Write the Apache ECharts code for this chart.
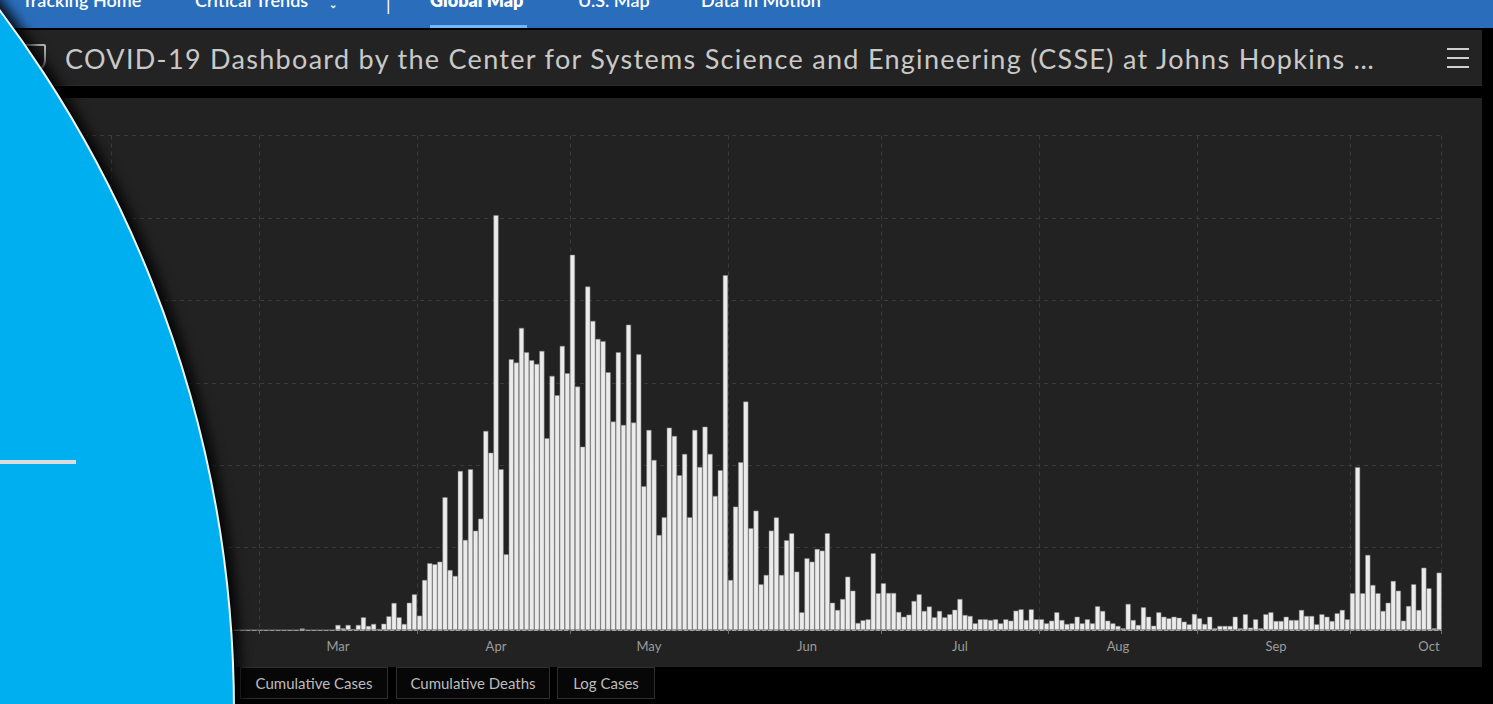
<!DOCTYPE html>
<html>
<head>
<meta charset="utf-8">
<script src="https://cdn.jsdelivr.net/npm/echarts@6/dist/echarts.min.js"></script>
<style>
  html, body { margin:0; padding:0; width:1493px; height:704px; overflow:hidden; background:#000; font-family: Lato, "Open Sans", sans-serif; }
  .abs { position:absolute; }
  #nav { left:0; top:0; width:1493px; height:28px; background:#2a6ebb; overflow:hidden; }
  .navitem { position:absolute; top:-10px; font-size:18px; line-height:20px; color:#fff; white-space:nowrap; font-weight:600; }
  #underline { left:430px; top:25px; width:97px; height:3px; background:#74b6f7; }
  #header { left:0; top:30px; width:1482px; height:55px; background:#232323; border-bottom:1px solid #2c2c2c; }
  #title { left:65px; top:41px; font-size:27px; line-height:36px; letter-spacing:1.3px; color:#c9c9c9; white-space:nowrap; }
  .hb { position:absolute; left:1447px; width:22px; height:2px; background:#cfcfcf; }
  #panel { left:0; top:98px; width:1482px; height:569px; background:#222; }
  .btn { position:absolute; top:667px; height:32px; line-height:31px; background:#070707; border:1px solid #2f2f2f; box-sizing:border-box; color:#bcbcbc; font-size:15px; text-align:center; white-space:nowrap; }
  #chart { left:0; top:0; width:1493px; height:704px; }
  #circle { left:-2103px; top:-457px; width:2338px; height:2338px; border-radius:50%; background:#00aff0; border:2px solid #f4f4f4; box-sizing:border-box; box-shadow: 3px 0 12px 4px rgba(0,0,0,0.85); }
  #grayline { left:0; top:460px; width:76px; height:4px; background:#dcdcdc; }
  #logo { left:22px; top:44px; width:24px; height:28px; border:2px solid #bbb; border-radius:2px 2px 12px 12px; box-sizing:border-box; }
</style>
</head>
<body>
<div id="nav" class="abs">
  <div class="navitem" style="left:22px">Tracking Home</div>
  <div class="navitem" style="left:195px">Critical Trends</div>
  <div class="navitem" style="left:329px;top:-6px;font-size:10px;">&#8964;</div>
  <div class="navitem" style="left:386px;top:-6px;font-weight:400;">|</div>
  <div class="navitem" style="left:430px;font-weight:800">Global Map</div>
  <div class="navitem" style="left:578px">U.S. Map</div>
  <div class="navitem" style="left:701px">Data in Motion</div>
  <div id="underline" class="abs"></div>
</div>
<div id="header" class="abs"></div>
<div id="logo" class="abs"></div>
<div id="title" class="abs">COVID-19 Dashboard by the Center for Systems Science and Engineering (CSSE) at Johns Hopkins …</div>
<div class="hb" style="top:48px"></div>
<div class="hb" style="top:57px"></div>
<div class="hb" style="top:66px"></div>
<div id="panel" class="abs"></div>
<div class="btn" style="left:240px;width:148px">Cumulative Cases</div>
<div class="btn" style="left:396px;width:154px">Cumulative Deaths</div>
<div class="btn" style="left:557px;width:98px">Log Cases</div>
<div id="chart" class="abs"></div>
<div id="circle" class="abs"></div>
<div id="grayline" class="abs"></div>
<script>
// Daily values (2020), Jan 22 .. Oct 18
const startDate = [2020, 0, 22];
const jan = [0,0,0,0,0,0,0,0,0,0];
const feb = [0,0,0,0,0,0,0,0,0,0,0,0,0,0,0,0,0,0,0,0,0,0,0,0,0,0,0,0,0];
const mar = [0,0,0,0,0,0,0,0,18,0,0,0,0,0,0,61,21,61,12,61,154,49,73,12,76,166,328,154,73,331,433];
const apr = [174,607,810,798,829,1611,728,656,1930,1093,1951,1205,1351,2416,2152,5034,1951,919,3286,3245,3666,3371,3274,3229,3387,2327,3084,2849,3448,3116];
const may = [4553,2954,2225,4168,3751,3533,3505,3128,2529,3371,2489,3706,2517,3347,1744,2428,2064,1153,1368,2456,2355,1878,2137,1368,2428,1979,2468,2137,1627,1939,4306];
const jun = [607,1497,2036,2772,1235,1448,555,668,1206,1366,668,1089,1174,708,215,870,829,983,963,1174,331,243,376,647,477,85,118,130,931,446];
const jul = [567,449,449,219,161,186,352,433,231,285,154,231,154,191,246,376,182,170,81,130,130,121,130,81,130,113,234,251,121,251,130];
const aug = [130,81,113,215,121,73,81,161,81,130,81,288,231,113,81,49,21,316,121,61,276,161,52,215,161,142,161,149,101,69,194];
const sep = [142,73,161,21,49,49,49,161,21,191,28,130,21,191,215,109,109,161,121,121,243,170,170,69,191,161,109,203,243,130];
const oct = [446,1975,446,911,546,446,231,331,595,477,113,291,555,243,756,506,21,696];
const monthNames = ['Jan','Feb','Mar','Apr','May','Jun','Jul','Aug','Sep','Oct'];

const values = [].concat(jan, feb, mar, apr, may, jun, jul, aug, sep, oct);
const categories = [];
const dayOfMonth = [];
const monthIdx = [];
{
  const d = new Date(startDate[0], startDate[1], startDate[2]);
  for (let i = 0; i < values.length; i++) {
    categories.push((d.getMonth()+1) + '/' + d.getDate() + '/2020');
    dayOfMonth.push(d.getDate());
    monthIdx.push(d.getMonth());
    d.setDate(d.getDate() + 1);
  }
}
const isMonthStart = (i) => dayOfMonth[i] === 1;
const isLabelDay = (i) => dayOfMonth[i] === 16;

const chart = echarts.init(document.getElementById('chart'), null, { renderer: 'svg', width: 1493, height: 704 });
chart.setOption({
  backgroundColor: 'transparent',
  animation: false,
  grid: { left: 60.1, top: 135.6, width: 1381.6, height: 494.4, containLabel: false },
  xAxis: {
    type: 'category',
    data: categories,
    boundaryGap: true,
    axisLine: { show: true, lineStyle: { color: '#a8a8a8', width: 1, type: [4, 2] } },
    axisTick: { show: true, interval: isMonthStart, length: 4, lineStyle: { color: '#6a6a6a' } },
    axisLabel: {
      interval: isLabelDay,
      formatter: (v, i) => monthNames[monthIdx[i]],
      color: '#9c9c9c', fontSize: 13, margin: 9, fontFamily: 'Lato'
    },
    splitLine: { show: true, interval: isMonthStart, lineStyle: { color: '#3b3b3b', type: [4, 4], width: 1 } }
  },
  yAxis: {
    type: 'value', min: 0, max: 6000, interval: 1000,
    axisLabel: { show: false }, axisLine: { show: false }, axisTick: { show: false },
    splitLine: { show: true, lineStyle: { color: '#3b3b3b', type: [4, 4], width: 1 } }
  },
  series: [{
    type: 'bar',
    data: values,
    barCategoryGap: '0%',
    barGap: '0%',
    itemStyle: { color: '#ebebeb', borderColor: '#7c7c7c', borderWidth: 0.5 }
  }]
});
</script>
</body>
</html>
